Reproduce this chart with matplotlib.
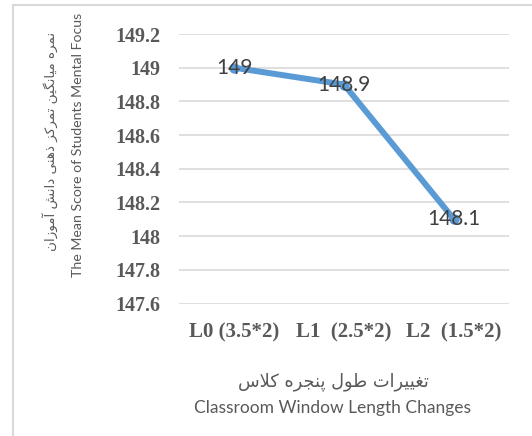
import matplotlib
matplotlib.use("Agg")
import matplotlib.pyplot as plt
from matplotlib.lines import Line2D

categories = ["L0 (3.5*2)", "L1  (2.5*2)", "L2  (1.5*2)"]
scores = [149.0, 148.9, 148.1]
score_labels = ["149", "148.9", "148.1"]
y_ticks = [147.6, 147.8, 148.0, 148.2, 148.4, 148.6, 148.8, 149.0, 149.2]
y_tick_labels = ["147.6", "147.8", "148", "148.2", "148.4", "148.6", "148.8", "149", "149.2"]

y_title_fa = "نمره میانگین تمرکز ذهنی دانش آموزان"
y_title_en = "The Mean Score of Students Mental Focus"
x_title_fa = "تغییرات طول پنجره کلاس"
x_title_en = "Classroom Window Length Changes"

# presentation forms: isolated, final, initial, medial (None -> right joining only)
FORMS = {
    "ا": ("\uFE8D", "\uFE8E", None, None),
    "آ": ("\uFE81", "\uFE82", None, None),
    "د": ("\uFEA9", "\uFEAA", None, None),
    "ذ": ("\uFEAB", "\uFEAC", None, None),
    "ر": ("\uFEAD", "\uFEAE", None, None),
    "ز": ("\uFEAF", "\uFEB0", None, None),
    "و": ("\uFEED", "\uFEEE", None, None),
    "پ": ("\uFB56", "\uFB57", "\uFB58", "\uFB59"),
    "ت": ("\uFE95", "\uFE96", "\uFE97", "\uFE98"),
    "ج": ("\uFE9D", "\uFE9E", "\uFE9F", "\uFEA0"),
    "س": ("\uFEB1", "\uFEB2", "\uFEB3", "\uFEB4"),
    "ش": ("\uFEB5", "\uFEB6", "\uFEB7", "\uFEB8"),
    "ط": ("\uFEC1", "\uFEC2", "\uFEC3", "\uFEC4"),
    "غ": ("\uFECD", "\uFECE", "\uFECF", "\uFED0"),
    "ک": ("\uFB8E", "\uFB8F", "\uFB90", "\uFB91"),
    "گ": ("\uFB92", "\uFB93", "\uFB94", "\uFB95"),
    "ل": ("\uFEDD", "\uFEDE", "\uFEDF", "\uFEE0"),
    "م": ("\uFEE1", "\uFEE2", "\uFEE3", "\uFEE4"),
    "ن": ("\uFEE5", "\uFEE6", "\uFEE7", "\uFEE8"),
    "ه": ("\uFEE9", "\uFEEA", "\uFEEB", "\uFEEC"),
    "ی": ("\uFBFC", "\uFBFD", "\uFBFE", "\uFBFF"),
}


def shape_fa(text):
    out = []
    i = 0
    n = len(text)
    while i < n:
        c = text[i]
        if c not in FORMS:
            out.append(c)
            i += 1
            continue
        prev = text[i - 1] if i > 0 else ""
        joins_prev = prev in FORMS and FORMS[prev][2] is not None
        if c == "ل" and i + 1 < n and text[i + 1] == "ا":
            out.append("\uFEFC" if joins_prev else "\uFEFB")
            i += 2
            continue
        nxt = text[i + 1] if i + 1 < n else ""
        joins_next = nxt in FORMS and FORMS[c][2] is not None
        iso, fin, ini, med = FORMS[c]
        if joins_prev and joins_next:
            out.append(med)
        elif joins_prev:
            out.append(fin)
        elif joins_next:
            out.append(ini)
        else:
            out.append(iso)
        i += 1
    return "".join(out[::-1])


W, H = 532, 436
fig = plt.figure(figsize=(W / 100, H / 100), dpi=100)
ax = fig.add_axes([179 / W, 1 - 303.5 / H, 330 / W, 269.5 / H])

x = list(range(len(categories)))
ax.plot(x, scores, color="#5B9BD5", lw=4.3, solid_capstyle="round",
        solid_joinstyle="round", marker="o", ms=6.5, zorder=3)
for xi, v, lab in zip(x, scores, score_labels):
    ax.text(xi, v, lab, ha="center", va="center", fontsize=15,
            family="Lato", color="#404040", zorder=4)

ax.set_xlim(-0.5, len(categories) - 0.5)
ax.set_ylim(147.6, 149.2)
ax.set_yticks(y_ticks)
ax.set_yticklabels(y_tick_labels, family="Liberation Serif", fontweight="bold",
                   fontsize=14.5, color="#595959")
ax.set_xticks(x)
ax.set_xticklabels(categories, family="Liberation Serif", fontweight="bold",
                   fontsize=15, color="#595959")
ax.tick_params(length=0, pad=13.5)
ax.tick_params(axis="x", pad=14)
ax.grid(axis="y", color="#D9D9D9", lw=1.2)
ax.set_axisbelow(True)
for s in ax.spines.values():
    s.set_visible(False)

fig.text(50 / W, 1 - 141 / H, shape_fa(y_title_fa), rotation=90, ha="center",
         va="center", fontsize=9.7, family="DejaVu Sans", color="#595959")
fig.text(78 / W, 1 - 145 / H, y_title_en, rotation=90, ha="center",
         va="center", fontsize=10.2, family="Lato", color="#595959")
fig.text(333 / W, 1 - 382 / H, shape_fa(x_title_fa), ha="center", va="center",
         fontsize=12.8, family="DejaVu Sans", color="#595959")
fig.text(333 / W, 1 - 408 / H, x_title_en, ha="center", va="center",
         fontsize=12.5, family="Lato", color="#595959")

# chart border (top and left visible)
fig.add_artist(Line2D([13 / W, 13 / W], [0, 1 - 5.5 / H], color="#D9D9D9", lw=1.5))
fig.add_artist(Line2D([13 / W, 1], [1 - 5.5 / H, 1 - 5.5 / H], color="#D9D9D9", lw=1.5))

fig.savefig("out.png", dpi=100)
